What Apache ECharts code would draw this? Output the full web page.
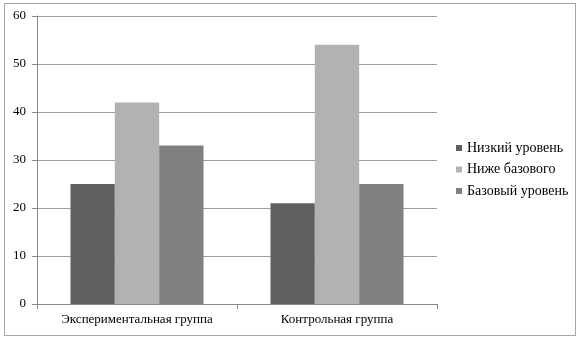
<!DOCTYPE html>
<html>
<head>
<meta charset="utf-8">
<script src="https://cdn.jsdelivr.net/npm/echarts@6/dist/echarts.min.js"></script>
<style>
html, body { margin: 0; padding: 0; background: #fff; }
#frame { position: absolute; left: 4px; top: 3px; width: 570px; height: 331px; border: 1px solid #a6a6a6; }
#chart { position: absolute; left: 0; top: 0; width: 579px; height: 340px; }
</style>
</head>
<body>
<div id="frame"></div>
<div id="chart"></div>
<script>
var categories = ['Экспериментальная группа', 'Контрольная группа'];
var seriesNames = ['Низкий уровень', 'Ниже базового', 'Базовый уровень'];
var lowLevel = [25, 21];
var belowBasic = [42, 54];
var basicLevel = [33, 25];
var seriesColors = ['#606060', '#b2b2b2', '#808080'];

var mychart = echarts.init(document.getElementById('chart'), null, { renderer: 'canvas' });
var font = '"Liberation Serif", "DejaVu Serif", serif';

option = {
    animation: false,
    textStyle: { fontFamily: font },
    grid: { left: 37, right: 142, top: 16, bottom: 36 },
    legend: {
        orient: 'vertical',
        left: 456,
        top: 141,
        padding: 0,
        itemWidth: 6,
        itemHeight: 6,
        itemGap: 7.5,
        icon: 'rect',
        textStyle: { fontFamily: font, fontSize: 14, color: '#000' },
        data: seriesNames
    },
    xAxis: {
        type: 'category',
        data: categories,
        axisLine: { lineStyle: { color: '#888', width: 1 } },
        axisTick: { show: true, alignWithLabel: false, length: 5, lineStyle: { color: '#888' } },
        axisLabel: { fontFamily: font, fontSize: 13, color: '#000', margin: 9 }
    },
    yAxis: {
        type: 'value',
        min: 0,
        max: 60,
        interval: 10,
        axisLine: { show: true, lineStyle: { color: '#888', width: 1 } },
        axisTick: { show: true, length: 5, lineStyle: { color: '#888' } },
        axisLabel: { fontFamily: font, fontSize: 13, color: '#000', margin: 11 },
        splitLine: { lineStyle: { color: '#a0a0a0', width: 1 } }
    },
    series: [
        { name: seriesNames[0], type: 'bar', data: lowLevel, color: seriesColors[0], barGap: '0%', barCategoryGap: '33.5%' },
        { name: seriesNames[1], type: 'bar', data: belowBasic, color: seriesColors[1], barGap: '0%', barCategoryGap: '33.5%' },
        { name: seriesNames[2], type: 'bar', data: basicLevel, color: seriesColors[2], barGap: '0%', barCategoryGap: '33.5%' }
    ]
};
mychart.setOption(option);
</script>
</body>
</html>
